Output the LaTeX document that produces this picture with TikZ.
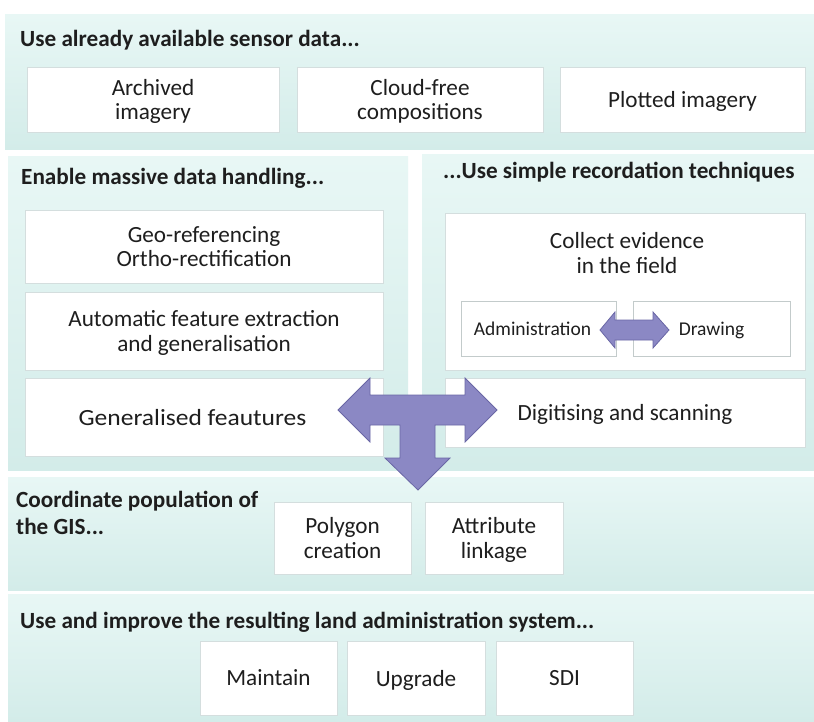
\documentclass[tikz,border=0pt]{standalone}
\usepackage{fontspec}
\usepackage{graphicx}
\setmainfont{Carlito}
\usetikzlibrary{calc}
\definecolor{panelTop}{RGB}{232,247,245}
\definecolor{panelBot}{RGB}{211,236,233}
\definecolor{boxLine}{RGB}{212,222,222}
\definecolor{txt}{RGB}{30,30,30}
\definecolor{arrFill}{RGB}{139,136,196}
\definecolor{arrLine}{RGB}{105,102,165}
\newcommand\bxfont{\fontsize{23.2}{24.5}\selectfont}
\newcommand\smfont{\fontsize{19.5}{22}\selectfont}
\newcommand\tlfont{\fontsize{23.2}{27}\selectfont\bfseries}
\begin{document}
\begin{tikzpicture}[x=1pt,y=-1pt,
  panel/.style={draw=none, top color=panelTop, bottom color=panelBot},
  box/.style={draw=boxLine, line width=0.8pt, fill=white, align=center, inner sep=2pt, font=\bxfont, text=txt, text depth=0pt},
  smbox/.style={box, font=\smfont, draw=boxLine!80!gray},
  ttl/.style={anchor=west, font=\tlfont, text=txt, inner sep=0pt, align=left},
  arr/.style={fill=arrFill, draw=arrLine, line width=0.8pt, line join=miter}]
\useasboundingbox[fill=white] (0,0) rectangle (814,722);
% panels
\path[panel] (5,15) rectangle (814,150);
\path[panel] (8,157) rectangle (408,470);
\path[panel] (422,155) rectangle (814,470);
\path[panel] (8,477) rectangle (814,590);
\path[panel] (8,594) rectangle (814,722);
% titles
\node[ttl] (t1) at (20,40) {Use already available sensor data...};
\node[ttl] (t2) at (21,178) {Enable massive data handling...};
\node[ttl] (t3) at (443,172) {...Use simple recordation techniques};
\node[ttl] (t4) at (16,513) {Coordinate population of\\the GIS...};
\node[ttl] (t5) at (20,622) {Use and improve the resulting land administration system...};
% row 1
\node[box, minimum width=252pt, minimum height=65pt] (arch) at (153,99.5) {Archived\\imagery};
\node[box, minimum width=246pt, minimum height=65pt] (cloud) at (420,99.5) {Cloud-free\\compositions};
\node[box, minimum width=245pt, minimum height=65pt] (plot) at (682.5,99.5) {Plotted imagery};
% left column
\node[box, minimum width=358pt, minimum height=73pt] (geo) at (204,246.5) {Geo-referencing\\Ortho-rectification};
\node[box, minimum width=358pt, minimum height=78pt] (auto) at (204,331) {Automatic feature extraction\\and generalisation};
\node[box, minimum width=358pt, minimum height=78pt] (gen) at (204,417) {\hspace*{-23pt}\scalebox{1.1}[1]{Generalised feautures}};
% right column
\node[box, minimum width=360pt, minimum height=157pt] (collect) at (625,291.5) {};
\node[font=\bxfont, text=txt, align=center, text depth=0pt] (colltxt) at (627,253) {Collect evidence\\in the field};
\node[smbox, minimum width=155pt, minimum height=55pt] (admin) at (538.5,328.5) {\hspace*{-12pt}Administration};
\node[smbox, minimum width=157pt, minimum height=55pt] (drawing) at (711.5,328.5) {Drawing};
\node[box, minimum width=360pt, minimum height=69pt] (digit) at (625,412.5) {Digitising and scanning};
% GIS row
\node[box, minimum width=137pt, minimum height=72pt] (poly) at (342.5,538) {Polygon\\creation};
\node[box, minimum width=138pt, minimum height=72pt] (attr) at (494,538) {Attribute\\linkage};
% bottom row
\node[box, minimum width=137pt, minimum height=74pt] (maint) at (268.5,678) {Maintain};
\node[box, minimum width=138pt, minimum height=74pt] (upg) at (416,678) {Upgrade};
\node[box, minimum width=137pt, minimum height=74pt] (sdi) at (564.5,678) {SDI};
% small double arrow between Administration and Drawing
\draw[arr] (600,330) -- (615,312) -- (615,320) -- (653,320) -- (653,312) -- (669,330)
  -- (653,348) -- (653,340) -- (615,340) -- (615,348) -- cycle;
% big T arrow
\draw[arr] (338,410) -- (370,378) -- (370,395) -- (465,395) -- (465,378) -- (497,410)
  -- (465,442) -- (465,425) -- (435,425) -- (435,458) -- (450,458) -- (418,490)
  -- (385,458) -- (400,458) -- (400,425) -- (370,425) -- (370,442) -- cycle;
\end{tikzpicture}
\end{document}
